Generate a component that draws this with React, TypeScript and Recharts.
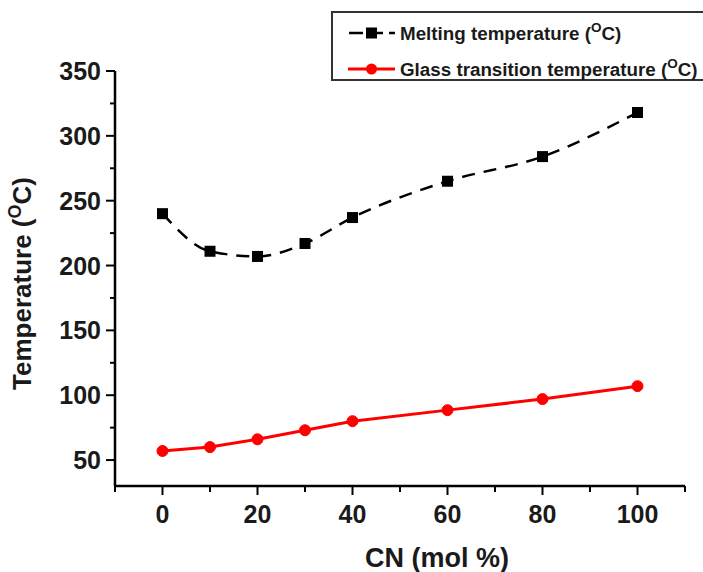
import React from 'react'
import { LineChart, Line, XAxis, YAxis, Legend } from 'recharts'

// CN content (mol %) and the two measured temperatures
const cnMol = [0, 10, 20, 30, 40, 60, 80, 100]
const meltingTemp = [240, 211, 207, 217, 237, 265, 284, 318]
const glassTemp = [57, 60, 66, 73, 80, 88.5, 97, 107]

const seriesNames = ['Melting temperature', 'Glass transition temperature']

// all tick positions (minor + major); only the major ones get a label
const xTicks = [-10, 0, 10, 20, 30, 40, 50, 60, 70, 80, 90, 100, 110]
const xLabels = [0, 20, 40, 60, 80, 100]
const yTicks = [50, 75, 100, 125, 150, 175, 200, 225, 250, 275, 300, 325, 350]
const yLabels = [50, 100, 150, 200, 250, 300, 350]

const data = cnMol.map((cn, i) => ({ cn, melting: meltingTemp[i], glass: glassTemp[i] }))

const FONT = '"Liberation Sans", Arial, Helvetica, sans-serif'

function XTick({ x, y, payload }: any) {
  const major = xLabels.includes(payload.value)
  return (
    <g>
      <line x1={x} x2={x} y1={y} y2={y + (major ? 9 : 6)} stroke="#000" strokeWidth={2} />
      {major && (
        <text x={x} y={y + 37} textAnchor="middle" fontSize={25} fontWeight="bold" fill="#1a1a1a" fontFamily={FONT}>
          {payload.value}
        </text>
      )}
    </g>
  )
}

function YTick({ x, y, payload }: any) {
  const major = yLabels.includes(payload.value)
  return (
    <g>
      <line x1={x - (major ? 9 : 5)} x2={x} y1={y} y2={y} stroke="#000" strokeWidth={2} />
      {major && (
        <text x={x - 14} y={y + 9} textAnchor="end" fontSize={25} fontWeight="bold" fill="#1a1a1a" fontFamily={FONT}>
          {payload.value}
        </text>
      )}
    </g>
  )
}

function SquareDot({ cx, cy }: any) {
  if (cx == null || cy == null) return null
  return <rect x={cx - 5.5} y={cy - 5.5} width={11} height={11} fill="#000" />
}

function YTitle({ viewBox }: any) {
  const cx = viewBox.x - 19
  const cy = viewBox.y + viewBox.height / 2 + 5
  return (
    <text
      x={cx}
      y={cy}
      transform={`rotate(-90, ${cx}, ${cy})`}
      textAnchor="middle"
      fontSize={26}
      fontWeight="bold"
      fill="#1a1a1a"
      fontFamily={FONT}
    >
      <tspan>Temperature (</tspan>
      <tspan fontSize={18} dy={-10}>O</tspan>
      <tspan dy={10}>C)</tspan>
    </text>
  )
}

function XTitle({ viewBox }: any) {
  const cx = viewBox.x + viewBox.width / 2 + 37
  return (
    <text x={cx} y={viewBox.y + 81} textAnchor="middle" fontSize={27} fontWeight="bold" fill="#1a1a1a" fontFamily={FONT}>
      CN (mol %)
    </text>
  )
}

function LegendBox() {
  const row = (top: number, i: number) => (
    <div key={i} style={{ position: 'absolute', left: 15, top, display: 'flex', alignItems: 'center', whiteSpace: 'nowrap' }}>
      <svg width={47} height={16} style={{ marginRight: 5 }}>
        {i === 0 ? (
          <>
            <line x1={0} x2={47} y1={8} y2={8} stroke="#000" strokeWidth={2.5} strokeDasharray="14 6" strokeDashoffset={-1} />
            <rect x={18} y={2.5} width={11} height={11} fill="#000" />
          </>
        ) : (
          <>
            <line x1={0} x2={47} y1={8} y2={8} stroke="#ff0000" strokeWidth={3} />
            <circle cx={23.5} cy={8} r={5.5} fill="#ff0000" />
          </>
        )}
      </svg>
      <span>
        {seriesNames[i]} (<sup style={{ fontSize: 13.5, verticalAlign: 8 }}>O</sup>C)
      </span>
    </div>
  )
  return (
    <div
      style={{
        position: 'relative',
        width: 420,
        height: 66,
        border: '2px solid #333',
        background: '#fff',
        fontFamily: FONT,
        fontSize: 18.8,
        fontWeight: 'bold',
        color: '#1a1a1a',
      }}
    >
      {row(7, 0)}
      {row(43, 1)}
    </div>
  )
}

export default function App() {
  return (
    <div style={{ position: 'absolute', left: 0, top: 0, width: 703, height: 572, overflow: 'hidden', background: '#fff' }}>
      <LineChart
        width={703}
        height={572}
        data={data}
        margin={{ top: 71, right: 18, bottom: 26, left: 50 }}
        style={{ fontFamily: FONT }}
      >
        <XAxis
          dataKey="cn"
          type="number"
          domain={[-10, 110]}
          ticks={xTicks}
          interval={0}
          height={60}
          tickSize={0}
          tickMargin={0}
          tickLine={false}
          tick={<XTick />}
          axisLine={{ stroke: '#000', strokeWidth: 2.5 }}
          label={{ content: <XTitle /> }}
        />
        <YAxis
          type="number"
          domain={[30, 350]}
          ticks={yTicks}
          interval={0}
          width={65}
          tickSize={0}
          tickMargin={0}
          tickLine={false}
          tick={<YTick />}
          axisLine={{ stroke: '#000', strokeWidth: 2.5 }}
          label={{ content: <YTitle /> }}
        />
        <Legend
          layout="vertical"
          align="center"
          verticalAlign="middle"
          content={<LegendBox />}
          wrapperStyle={{ left: 331, top: 11, width: 420 }}
        />
        <Line
          dataKey="melting"
          name={seriesNames[0]}
          type="monotone"
          stroke="#000"
          strokeWidth={2.5}
          strokeDasharray="13 9"
          dot={<SquareDot />}
          activeDot={false}
          isAnimationActive={false}
        />
        <Line
          dataKey="glass"
          name={seriesNames[1]}
          type="linear"
          stroke="#ff0000"
          strokeWidth={3}
          dot={{ r: 5.5, fill: '#ff0000', stroke: '#ff0000', strokeWidth: 1 }}
          activeDot={false}
          isAnimationActive={false}
        />
      </LineChart>
    </div>
  )
}
